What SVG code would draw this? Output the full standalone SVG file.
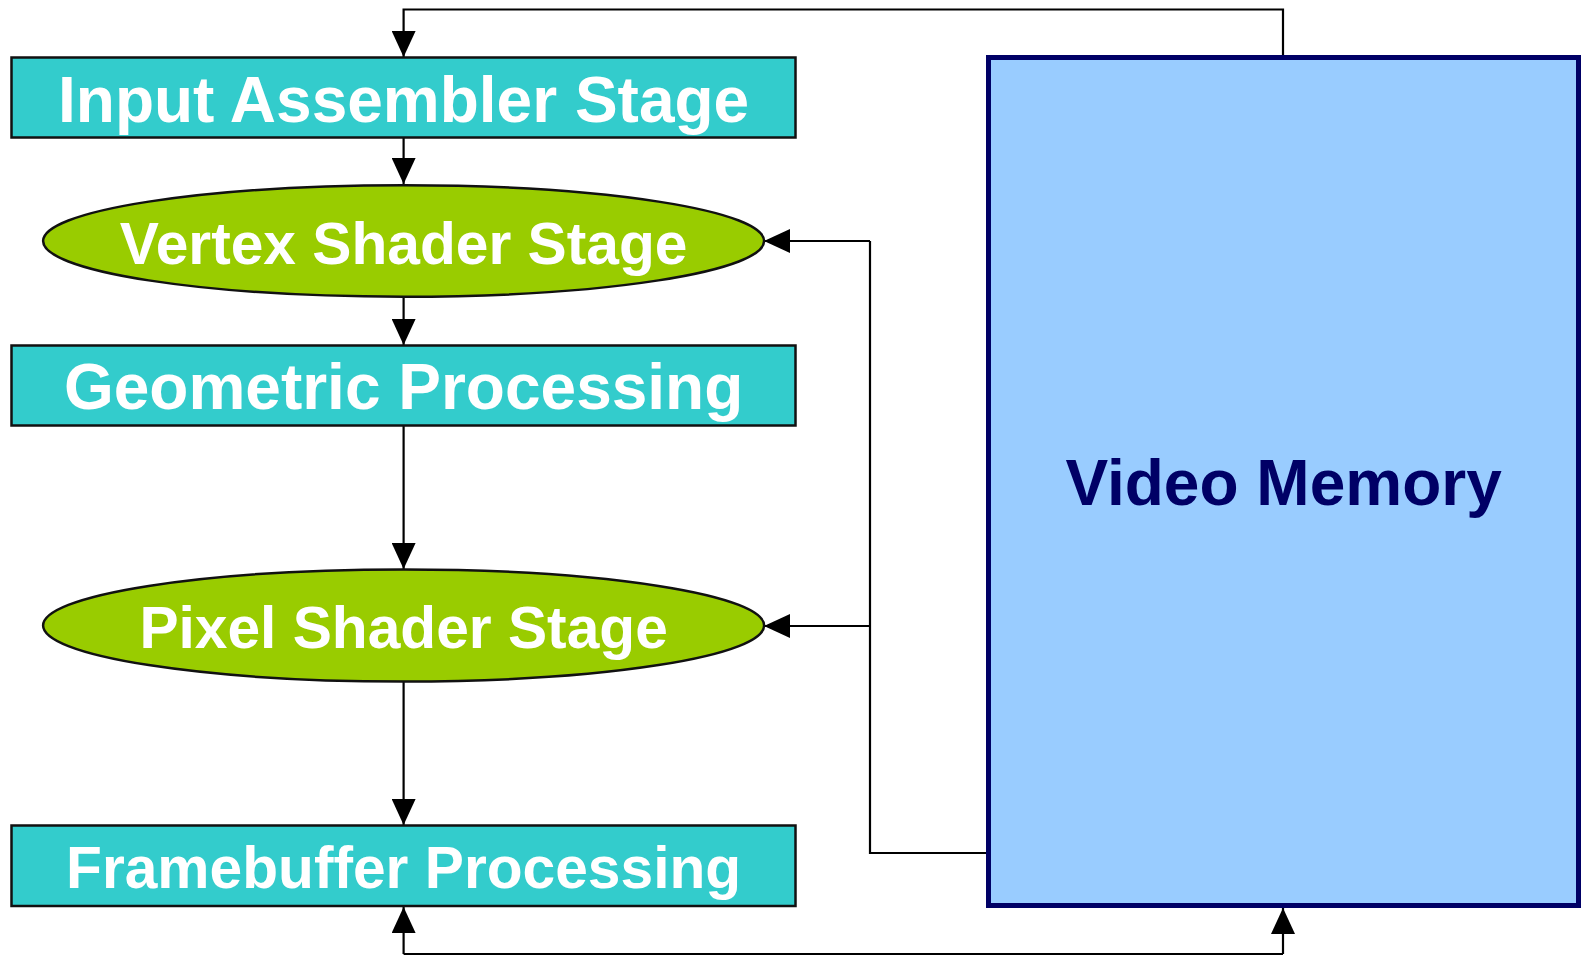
<svg xmlns="http://www.w3.org/2000/svg" width="1586" height="955" viewBox="0 0 1586 955">
  <style>
    .stage { fill: #33CCCC; stroke: #111111; stroke-width: 2.5; }
    .shader { fill: #99CC00; stroke: #111111; stroke-width: 2.5; }
    .memory { fill: #99CCFF; stroke: #000066; stroke-width: 5; }
    .label { font-family: "Liberation Sans", Arial, sans-serif; font-weight: bold; font-size: 64px; fill: #FFFFFF; text-anchor: middle; }
    .small { font-size: 58.7px; }
    .memlabel { font-family: "Liberation Sans", Arial, sans-serif; font-weight: bold; font-size: 64px; fill: #000066; text-anchor: middle; }
    .wire { fill: none; stroke: #000000; stroke-width: 2.2; marker-end: url(#arrow); }
    .plain { fill: none; stroke: #000000; stroke-width: 2.2; }
  </style>
  <defs>
    <marker id="arrow" markerUnits="userSpaceOnUse" markerWidth="26" markerHeight="24" refX="26" refY="12" orient="auto">
      <path d="M0,0 L26,12 L0,24 Z" fill="#000000"/>
    </marker>
  </defs>
  <rect width="1586" height="955" fill="#FFFFFF"/>

  <!-- connectors -->
  <g id="connectors">
    <path class="wire" d="M1283,55 V9.5 H403.6 V57"/>
    <path class="wire" d="M403.6,138 V184"/>
    <path class="wire" d="M403.6,297 V345"/>
    <path class="wire" d="M403.6,426 V569"/>
    <path class="wire" d="M403.6,681 V825"/>
    <path class="plain" d="M986,853 H870 V241"/>
    <path class="wire" d="M870,241 H764"/>
    <path class="wire" d="M870,626 H764"/>
    <path class="wire" d="M403.6,954 V907"/>
    <path class="plain" d="M403.6,954 H1283"/>
    <path class="wire" d="M1283,954 V908"/>
  </g>

  <g id="input-assembler">
    <rect class="stage" x="11.5" y="57.5" width="784" height="80"/>
    <text class="label" x="403.6" y="121.5">Input Assembler Stage</text>
  </g>

  <g id="vertex-shader">
    <ellipse class="shader" cx="403.6" cy="241" rx="360.5" ry="55.7"/>
    <text class="label small" x="403.6" y="263.5">Vertex Shader Stage</text>
  </g>

  <g id="geometric-processing">
    <rect class="stage" x="11.5" y="345.5" width="784" height="80"/>
    <text class="label" x="403.6" y="408.5">Geometric Processing</text>
  </g>

  <g id="pixel-shader">
    <ellipse class="shader" cx="403.6" cy="625.5" rx="360.5" ry="56"/>
    <text class="label small" x="403.6" y="647.5">Pixel Shader Stage</text>
  </g>

  <g id="framebuffer-processing">
    <rect class="stage" x="11.5" y="825.5" width="784" height="80.5"/>
    <text class="label small" x="403.6" y="887.5">Framebuffer Processing</text>
  </g>

  <g id="video-memory">
    <rect class="memory" x="988.5" y="57.5" width="590" height="848"/>
    <text class="memlabel" x="1283.6" y="505">Video Memory</text>
  </g>
</svg>
